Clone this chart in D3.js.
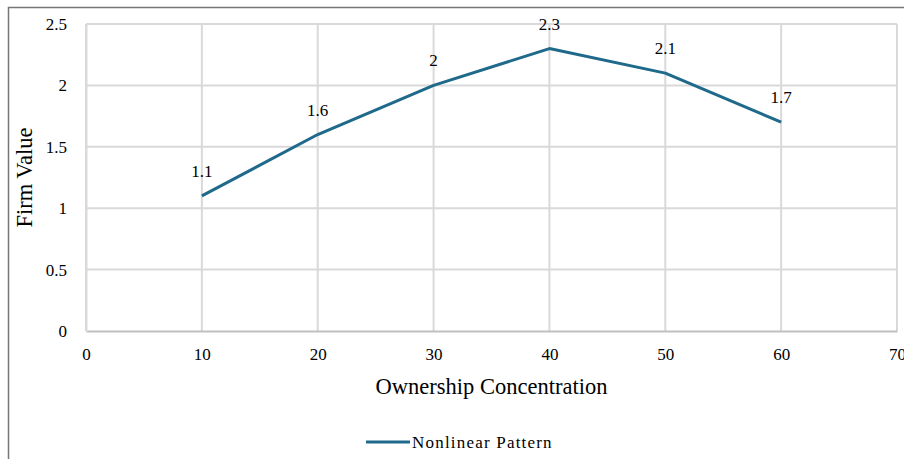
<!DOCTYPE html>
<html>
<head>
<meta charset="utf-8">
<script src="https://cdn.jsdelivr.net/npm/d3@7"></script>
<style>
  body { margin: 0; background: #fff; }
  svg { display: block; }
  svg text { font-family: "Liberation Serif", "Times New Roman", serif !important; fill: #000; }
</style>
</head>
<body>
<svg></svg>
<script>
const concentration = [10, 20, 30, 40, 50, 60];
const firmValue = [1.1, 1.6, 2, 2.3, 2.1, 1.7];
const xTicks = [0, 10, 20, 30, 40, 50, 60, 70];
const yTicks = [0, 0.5, 1, 1.5, 2, 2.5];
const seriesName = 'Nonlinear Pattern';

const width = 904;
const height = 459;
const margin = { top: 24, right: 7, bottom: 128, left: 86 };
const lineColor = '#1f6a8b';

const svg = d3.select('svg')
  .attr('width', width)
  .attr('height', height);

// chart frame (runs off the right and bottom edges)
svg.append('rect')
  .attr('x', 8.5)
  .attr('y', 7.5)
  .attr('width', 1000)
  .attr('height', 1000)
  .attr('fill', 'none')
  .attr('stroke', '#767676')
  .attr('stroke-width', 1.5);

const xScale = d3.scaleLinear()
  .domain([0, 70])
  .range([margin.left, width - margin.right]);

const yScale = d3.scaleLinear()
  .domain([0, 2.5])
  .range([height - margin.bottom, margin.top]);

// grid
svg.append('g')
  .selectAll('line')
  .data(yTicks.filter(d => d > 0))
  .enter()
  .append('line')
  .attr('x1', xScale(0))
  .attr('x2', xScale(70))
  .attr('y1', d => yScale(d))
  .attr('y2', d => yScale(d))
  .attr('stroke', '#d9d9d9')
  .attr('stroke-width', 2);

svg.append('g')
  .selectAll('line')
  .data(xTicks)
  .enter()
  .append('line')
  .attr('x1', d => xScale(d))
  .attr('x2', d => xScale(d))
  .attr('y1', yScale(0))
  .attr('y2', yScale(2.5))
  .attr('stroke', '#d9d9d9')
  .attr('stroke-width', 2);

// axes
const xAxis = d3.axisBottom(xScale).tickValues(xTicks).tickSize(0).tickPadding(17).tickFormat(d3.format('d'));
const gx = svg.append('g')
  .attr('transform', 'translate(0,' + yScale(0) + ')')
  .call(xAxis);
gx.select('.domain').attr('stroke', '#bfbfbf').attr('stroke-width', 2);
gx.selectAll('text').attr('font-size', 17);

const yAxis = d3.axisLeft(yScale).tickValues(yTicks).tickSize(0).tickPadding(19).tickFormat(d => d);
const gy = svg.append('g')
  .attr('transform', 'translate(' + margin.left + ',0)')
  .call(yAxis);
gy.select('.domain').attr('stroke', '#d9d9d9').attr('stroke-width', 2);
gy.selectAll('text').attr('font-size', 17);

// line
const line = d3.line()
  .x((d, i) => xScale(concentration[i]))
  .y(d => yScale(d));

svg.append('path')
  .datum(firmValue)
  .attr('d', line)
  .attr('fill', 'none')
  .attr('stroke', lineColor)
  .attr('stroke-width', 3)
  .attr('stroke-linejoin', 'round');

// data labels
svg.append('g')
  .selectAll('text')
  .data(firmValue)
  .enter()
  .append('text')
  .attr('x', (d, i) => xScale(concentration[i]))
  .attr('y', d => yScale(d) - 19)
  .attr('text-anchor', 'middle')
  .attr('font-size', 17)
  .text(d => d);

// axis titles
svg.append('text')
  .attr('x', (xScale(0) + xScale(70)) / 2)
  .attr('y', 394)
  .attr('text-anchor', 'middle')
  .attr('font-size', 22.5)
  .text('Ownership Concentration');

svg.append('text')
  .attr('transform', 'translate(32,' + (yScale(0) + yScale(2.5)) / 2 + ') rotate(-90)')
  .attr('text-anchor', 'middle')
  .attr('font-size', 22.5)
  .text('Firm Value');

// legend
const legend = svg.append('g').attr('transform', 'translate(366,442)');
legend.append('line')
  .attr('x1', 0)
  .attr('x2', 44)
  .attr('stroke', lineColor)
  .attr('stroke-width', 3);
legend.append('text')
  .attr('x', 46)
  .attr('y', 6)
  .attr('font-size', 17)
  .attr('letter-spacing', 1.2)
  .text(seriesName);
</script>
</body>
</html>
